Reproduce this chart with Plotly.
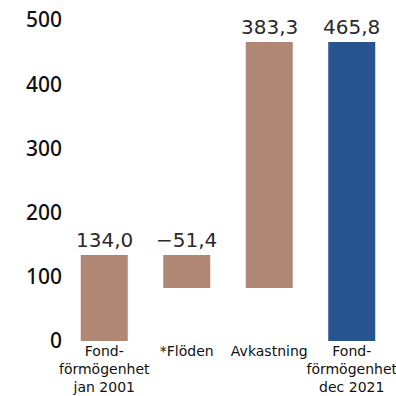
import plotly.graph_objects as go

categories = ["Fond-<br>förmögenhet<br>jan 2001", "*Flöden", "Avkastning", "Fond-<br>förmögenhet<br>dec 2021"]
values = [134.0, -51.4, 383.3, 465.8]
measures = ["relative", "relative", "relative", "total"]
value_labels = ["134,0", "−51,4", "383,3", "465,8"]
y_ticks = [0, 100, 200, 300, 400, 500]

brown = "#B08775"
blue = "#285590"

fig = go.Figure(go.Waterfall(
    x=categories,
    y=values,
    measure=measures,
    increasing=dict(marker=dict(color=brown)),
    decreasing=dict(marker=dict(color=brown)),
    totals=dict(marker=dict(color=blue)),
    connector=dict(visible=False),
    textposition="none",
    width=0.57,
    hoverinfo="skip",
))

# label positions: top of each bar
tops = []
run = 0.0
for v, m in zip(values, measures):
    if m == "total":
        tops.append(v)
    else:
        tops.append(max(run, run + v))
        run += v

for c, t, lab in zip(categories, tops, value_labels):
    fig.add_annotation(x=c, y=t, text=lab, showarrow=False, yanchor="bottom",
                       yshift=1, font=dict(family="DejaVu Sans", size=20, color="#2a2a2a"))

fig.update_layout(
    width=396, height=396,
    margin=dict(l=63, r=3, t=20, b=55),
    plot_bgcolor="white", paper_bgcolor="white",
    showlegend=False,
)
fig.update_xaxes(showgrid=False, showline=False, zeroline=False, tickangle=0, automargin=False,
                 ticklabelstandoff=0,
                 tickfont=dict(family="DejaVu Sans", size=14, color="#111111"))
fig.update_yaxes(range=[0, 500], tickvals=y_ticks, showgrid=False, showline=False, zeroline=False,
                 automargin=False,
                 tickfont=dict(family="Noto Sans", size=21, color="#111111", weight=500))

fig.write_html("out.html")
